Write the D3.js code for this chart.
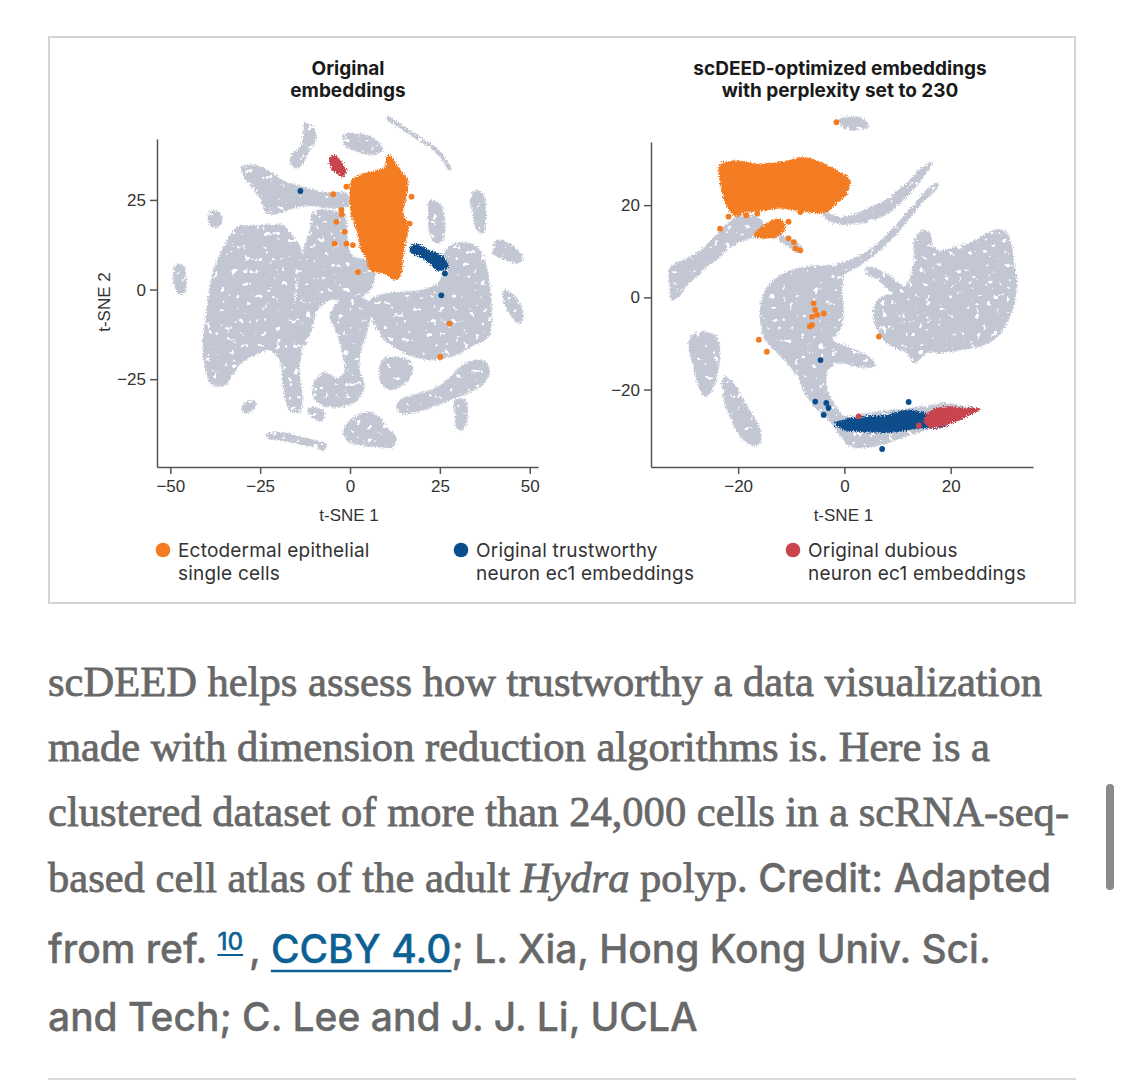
<!DOCTYPE html>
<html>
<head>
<meta charset="utf-8">
<script src="https://cdn.jsdelivr.net/npm/d3@7"></script>
<style>
  body { margin: 0; background: #fff; }
  svg { display: block; }
</style>
</head>
<body>
<div id="wrapper"></div>
<script>
// ---- data (t-SNE units) ----

// ticks
const leftXTicks = [-50, -25, 0, 25, 50];
const leftYTicks = [-25, 0, 25];
const rightXTicks = [-20, 0, 20];
const rightYTicks = [-20, 0, 20];

// left panel: original embeddings
const leftGray = [
  [[-30.2,34.3],[-26.1,34.7],[-22.3,32.9],[-18.6,30.5],[-13.1,28.7],[-7.5,27.3],[-1.0,26.8],[-0.1,23.6],[-5.6,22.6],[-11.2,23.3],[-16.8,22.3],[-20.5,21.0],[-23.3,21.4],[-25.1,25.4],[-28.9,30.5]],
  [[-12.6,46.8],[-10.3,45.4],[-9.4,41.7],[-11.2,38.9],[-13.1,35.2],[-15.4,33.8],[-16.8,35.7],[-15.9,38.0],[-14.0,39.8],[-13.1,42.6]],
  [[-1.9,43.1],[2.7,43.6],[7.3,41.7],[9.2,38.9],[6.4,37.5],[1.8,38.5],[-1.5,40.3]],
  [[22.2,24.9],[25.0,24.0],[26.4,19.4],[25.9,13.8],[24.0,12.8],[22.2,15.6],[21.7,21.2]],
  [[34.2,27.7],[37.0,26.8],[37.9,21.2],[37.0,15.6],[35.2,16.6],[34.2,21.2],[33.3,24.9]],
  [[40.7,13.8],[44.4,12.8],[48.1,9.1],[47.2,7.3],[43.5,8.2],[39.8,10.0]],
  [[42.6,-0.2],[45,-1],[47.5,-4],[48.2,-8],[47,-9.5],[44.5,-7],[43,-4]],
  [[-48.5,7],[-46.2,6.5],[-45.5,2],[-46,-1],[-48,-1],[-49.2,3]],
  [[-31.5,17.4],[-25.1,18.0],[-18.7,18.0],[-16.8,16.0],[-14.0,12.4],[-13.2,8.2],[-14.6,2.6],[-15.4,-3.0],[-14.0,-8.6],[-13.2,-15.6],[-14.0,-22.5],[-13.2,-30.9],[-14.0,-34.3],[-16.8,-33.7],[-18.7,-26.7],[-19.6,-19.7],[-22.4,-17.0],[-26.5,-18.4],[-30.7,-21.1],[-34.9,-26.7],[-38.2,-26.7],[-40.5,-21.1],[-41.0,-14.2],[-39.9,-5.8],[-39.0,1.2],[-37.6,6.8],[-34.9,12.4]],
  [[-10.4,21.6],[-5.7,22.2],[-1.5,20.8],[-0.6,13.8],[0.5,9.6],[6.0,7.6],[6.9,2.6],[4.1,-1.6],[-1.5,-3.0],[-5.7,-3.0],[-9.0,-5.8],[-10.7,-11.4],[-12.6,-15.6],[-14.6,-11.4],[-15.1,-3.0],[-14.0,5.4],[-12.6,12.4],[-11.2,16.6]],
  [[-2.9,-3.0],[4.1,-2.4],[6.0,-5.8],[4.9,-11.4],[3.2,-16.9],[2.7,-22.5],[4.1,-26.7],[2.1,-30.9],[-2.9,-32.9],[-7.9,-32.3],[-10.4,-29.5],[-9.8,-25.3],[-7.0,-23.1],[-3.4,-24.8],[-1.5,-22.5],[-2.3,-16.9],[-4.0,-11.4],[-5.7,-7.2]],
  [[5.5,-3.0],[11.0,-0.8],[19.4,-0.2],[25.0,2.6],[25.8,9.6],[29.1,12.9],[34.7,12.4],[37.5,8.2],[38.9,1.2],[39.4,-5.8],[38.9,-12.8],[34.7,-15.6],[29.1,-18.4],[23.6,-19.7],[18.0,-18.9],[13.8,-17.0],[9.7,-14.2],[6.9,-10.0]],
  [[9,-19.5],[13,-18.8],[17,-20],[17.5,-23],[15,-26.5],[11,-28],[8.5,-26],[8.2,-22]],
  [[13.8,-30.9],[18.5,-29.1],[23.1,-27.7],[26.8,-25.3],[30.5,-21.6],[34.2,-19.7],[38.0,-20.2],[38.9,-23.5],[36.1,-27.2],[32.4,-29.1],[27.7,-30.9],[23.1,-32.8],[18.5,-34.2],[14.3,-34.6],[12.9,-33.3]],
  [[29.1,-30.9],[31.9,-30.5],[32.8,-33.7],[32.4,-37.4],[31.0,-39.3],[29.6,-38.4],[29.1,-34.6]],
  [[-1.0,-37.4],[1.8,-35.1],[5.5,-34.2],[8.3,-35.6],[10.1,-38.4],[12.9,-41.2],[12.0,-44.0],[8.3,-44.0],[3.6,-43.5],[-0.1,-42.6],[-1.9,-40.2]],
  [[-23.3,-40.2],[-18.6,-39.8],[-13.1,-41.2],[-9.4,-42.1],[-6.6,-43.0],[-7.1,-44.9],[-10.3,-44.0],[-14.9,-43.0],[-19.6,-42.1],[-22.8,-41.6]],
  [[-30.2,-32.8],[-27.9,-30.9],[-26.0,-31.4],[-27.0,-33.7],[-29.3,-34.6]],
  [[-11.7,-33.3],[-9.4,-32.8],[-7.1,-34.2],[-7.5,-36.5],[-10.3,-36.0]],
  [[-39.5,21.5],[-37,22],[-35.5,20],[-36.5,17.5],[-38.5,17.5]]
];
const leftGrayStreaks = [
  [[10.6,47.8],[18.5,42.6],[24.0,38.9],[27.7,33.8]]
];
const leftOrange = [
  [[11.0,37.5],[12.9,35.2],[14.8,32.4],[16.2,30.5],[15.7,25.9],[14.8,21.2],[16.2,18.4],[15.7,13.8],[14.8,9.1],[14.3,4.5],[12.9,2.6],[9.2,4.5],[5.5,5.4],[4.6,8.2],[2.7,11.9],[1.8,16.6],[0.4,20.3],[-0.1,25.9],[0.4,30.5],[3.6,32.4],[7.3,33.3],[9.7,34.3],[10.1,37.1]]
];
const leftOrangeDots = [[-4.7,26.6],[-1.0,28.7],[-2.4,22.2],[-3.8,18.9],[-1.5,16.1],[-4.3,12.8],[-1.0,12.8],[0.8,12.4],[2.2,4.9],[16.6,18.4],[17.1,25.9],[27.7,-9.5],[25.1,-18.8],[-2.3,21]];
const leftBlue = [
  [[17.1,12.4],[19.4,12.6],[22.2,11.0],[24.9,10.0],[26.8,8.2],[27.3,6.3],[25.9,5.4],[24.0,5.4],[22.2,7.3],[19.4,9.1],[17.1,10.0],[16.6,11.4]]
];
const leftBlueDots = [[-13.8,27.5],[26.4,4.5],[25.4,-1.6]];
const leftRed = [
  [[-5.6,37.1],[-4.3,37.5],[-2.4,35.7],[-1.0,33.3],[-1.9,31.5],[-3.8,32.4],[-5.2,33.8],[-5.8,35.7]]
];
const leftRedDots = [];

// right panel: scDEED-optimized embeddings
const rightGray = [
  [[-32.8,6.6],[-30.3,8.1],[-27.1,10.2],[-24.6,13.1],[-22.1,16.0],[-19.6,17.8],[-16.4,17.5],[-13.9,14.6],[-10.8,13.1],[-8.3,11.3],[-7.7,9.9],[-9.2,9.9],[-11.4,11.7],[-13.9,12.8],[-17.1,12.8],[-19.6,12.0],[-22.1,10.2],[-24.0,8.1],[-25.9,6.6],[-27.7,4.5],[-29.6,2.7],[-31.2,0.1],[-32.5,-0.6],[-32.9,2.3]],
  [[-4.5,19.3],[-2.0,17.8],[1.1,17.8],[4.3,19.3],[8.0,21.4],[11.2,24.3],[14.3,27.9],[16.5,29.4],[16.2,28.3],[13.7,24.3],[11.2,21.1],[8.7,18.5],[5.5,16.7],[2.4,15.9],[-0.8,15.9],[-3.3,16.7]],
  [[17.5,25.0],[13.7,21.1],[9.9,16.0],[6.2,11.7],[2.4,8.8],[-2.0,6.6],[-2.0,4.1],[3.0,7.0],[6.8,10.2],[10.5,14.6],[14.0,19.6],[17.8,24.3]],
  [[-15.2,0.9],[-13.3,3.8],[-10.8,5.6],[-7.7,6.6],[-3.9,7.0],[-1.4,6.5],[-0.4,4.5],[-0.4,0.9],[-0.1,-3.5],[-0.8,-7.1],[-2.0,-9.2],[0.5,-10.7],[4.3,-12.5],[5.8,-14.9],[3.0,-15.2],[-0.8,-14.3],[-3.0,-15.7],[-3.3,-19.3],[-2.0,-22.9],[-0.8,-25.1],[-3.3,-25.8],[-5.8,-23.7],[-7.7,-20.1],[-8.9,-17.2],[-10.8,-14.3],[-13.3,-11.4],[-15.2,-8.5],[-15.9,-4.2]],
  [[5.5,-2.0],[6.8,0.1],[9.3,0.9],[11.8,3.0],[13.1,8.1],[13.1,12.4],[14.9,14.6],[16.2,13.9],[16.8,11.0],[18.7,10.2],[20.6,11.0],[23.1,11.7],[25.6,13.1],[28.1,14.6],[30.0,14.6],[31.3,12.4],[31.9,8.1],[32.5,3.0],[31.9,-2.0],[30.6,-5.6],[28.8,-8.5],[25.6,-10.7],[21.8,-11.4],[18.1,-12.1],[15.6,-12.1],[13.1,-14.3],[11.8,-12.1],[10.5,-11.4],[8.0,-10.0],[6.2,-7.1],[5.5,-4.9]],
  [[4.3,6.6],[6.8,5.9],[10.5,3.0],[11.8,0.9],[9.3,0.9],[6.2,3.8],[3.9,5.4]],
  [[-1,38.6],[1,39.2],[3.5,38.8],[4.6,37],[3,36.3],[0,36.6]],
  [[-29.0,-8.5],[-26.5,-7.4],[-24.0,-8.5],[-23.4,-12.1],[-24.0,-17.2],[-25.2,-20.8],[-26.5,-21.5],[-27.7,-18.6],[-28.7,-14.3],[-29.3,-10.7]],
  [[-22.7,-17.2],[-20.8,-18.6],[-19.0,-22.2],[-17.1,-25.8],[-15.8,-28.7],[-15.8,-31.6],[-17.1,-32.3],[-19.0,-30.9],[-20.8,-28.0],[-22.1,-24.4],[-23.0,-20.8]],
  [[-2.6,-24.4],[0.5,-25.8],[4.3,-25.1],[9.3,-24.4],[14.3,-23.7],[18.7,-22.9],[23.1,-23.7],[25.6,-24.2],[23.1,-25.8],[19.3,-27.3],[15.6,-28.7],[11.8,-30.2],[8.0,-31.6],[4.3,-32.7],[1.1,-32.3],[-0.8,-30.2],[-2.0,-28.0],[-3.3,-25.8]]
];
const rightGrayStreaks = [];
const rightOrange = [
  [[-23.4,29.0],[-20.2,29.7],[-15.8,29.0],[-10.8,29.7],[-7.7,30.4],[-5.1,29.7],[-1.4,27.6],[1.1,25.4],[0.5,22.5],[-1.4,20.3],[-3.3,18.5],[-4.5,18.2],[-7.0,18.5],[-9.5,18.9],[-12.1,19.3],[-14.6,18.9],[-17.1,18.5],[-19.0,18.2],[-20.2,17.5],[-21.5,18.5],[-22.7,21.1],[-23.4,24.7],[-23.7,27.6]],
  [[-16.4,14.6],[-14.6,16.0],[-13.0,17.1],[-11.4,16.4],[-11.1,14.6],[-12.1,13.5],[-13.9,12.8],[-15.8,12.8],[-17.1,13.5]]
];
const rightOrangeDots = [[-23.4,14.9],[-21.8,17.5],[-10.5,12.8],[-9.5,12.0],[-9.2,10.6],[-8.3,10.2],[-10.5,16.4],[-8.3,18.5],[-5.8,-1.3],[-5.5,-2.7],[-6.1,-4.2],[-5.1,-3.8],[-3.9,-3.5],[-6.1,-6.0],[-6.5,-6.3],[-16.1,-9.2],[-14.6,-11.8],[6.5,-8.5],[-1.5,38.0],[-16.4,18.2],[-18.5,17.8]];
const rightBlue = [
  [[-2.0,-27.3],[1.1,-26.2],[4.3,-25.8],[8.0,-25.5],[11.8,-24.4],[15.6,-25.1],[18.7,-25.8],[20.0,-27.3],[18.1,-28.4],[14.3,-28.4],[10.5,-29.1],[6.8,-29.4],[3.0,-29.1],[-0.1,-28.7]]
];
const rightBlueDots = [[-4.5,-13.6],[-5.5,-22.6],[-3.4,-22.9],[-3.0,-24.0],[-3.9,-25.5],[1.4,-27.9],[12.1,-22.7],[7.1,-32.9]];
const rightRed = [
  [[15.6,-25.1],[17.5,-24.0],[20.0,-23.7],[22.5,-24.0],[25.6,-24.2],[23.7,-25.5],[21.2,-26.9],[18.7,-28.0],[16.2,-28.4],[14.9,-26.9]]
];
const rightRedDots = [[2.7,-25.8],[14.0,-27.8]];

// legend
const legendLabels = [
  ["Ectodermal epithelial", "single cells"],
  ["Original trustworthy", "neuron ec1 embeddings"],
  ["Original dubious", "neuron ec1 embeddings"]
];
const titles = [
  ["Original", "embeddings"],
  ["scDEED-optimized embeddings", "with perplexity set to 230"]
];

// caption
const captionLines = [
  [{t: "scDEED helps assess how trustworthy a data visualization", s: "serif"}],
  [{t: "made with dimension reduction algorithms is. Here is a", s: "serif"}],
  [{t: "clustered dataset of more than 24,000 cells in a scRNA-seq-", s: "serif"}],
  [{t: "based cell atlas of the adult ", s: "serif"}, {t: "Hydra", s: "italic"}, {t: " polyp. ", s: "serif"}, {t: "Credit: Adapted", s: "sans"}],
  [{t: "from ref. ", s: "sans"}, {t: "10", s: "sup"}, {t: ", ", s: "sans"}, {t: "CCBY 4.0", s: "link"}, {t: "; L. Xia, Hong Kong Univ. Sci.", s: "sans"}],
  [{t: "and Tech; C. Lee and J. J. Li, UCLA", s: "sans"}]
];

// ---- styles ----
const colors = {
  gray: "#c2c7d3",
  orange: "#f47b20",
  blue: "#0a4d8c",
  red: "#c9444d",
  axis: "#555",
  text: "#333",
  caption: "#686868",
  link: "#0b6194"
};
const labelFont = "Inter, 'Noto Sans', sans-serif";
const tickFont = "'Liberation Sans', Arial, sans-serif";

const width = 1125, height = 1081;

const svg = d3.select("#wrapper")
  .append("svg")
  .attr("width", width)
  .attr("height", height);

const defs = svg.append("defs");

// ragged edges for the point clouds
function roughFilter(id, holes) {
  const f = defs.append("filter")
    .attr("id", id)
    .attr("x", "-10%").attr("y", "-10%")
    .attr("width", "120%").attr("height", "120%");
  f.append("feTurbulence")
    .attr("type", "fractalNoise")
    .attr("baseFrequency", 0.9)
    .attr("numOctaves", 2)
    .attr("seed", 3)
    .attr("result", "noise");
  f.append("feDisplacementMap")
    .attr("in", "SourceGraphic")
    .attr("in2", "noise")
    .attr("scale", 6)
    .attr("xChannelSelector", "R")
    .attr("yChannelSelector", "G")
    .attr("result", "moved");
  if (holes) {
    // a few white specks inside the gray clouds
    f.append("feTurbulence")
      .attr("type", "fractalNoise")
      .attr("baseFrequency", 0.16)
      .attr("numOctaves", 3)
      .attr("seed", 11)
      .attr("result", "spots");
    f.append("feColorMatrix")
      .attr("in", "spots")
      .attr("type", "matrix")
      .attr("values", "0 0 0 0 0  0 0 0 0 0  0 0 0 0 0  -16 0 0 0 11.9")
      .attr("result", "mask");
    f.append("feComposite")
      .attr("in", "moved")
      .attr("in2", "mask")
      .attr("operator", "in");
  }
}
roughFilter("rough", false);
roughFilter("speckle", true);

// figure frame
svg.append("rect")
  .attr("x", 49).attr("y", 37)
  .attr("width", 1026).attr("height", 566)
  .attr("fill", "none")
  .attr("stroke", "#d5d5d5")
  .attr("stroke-width", 2);

function drawPanel(p) {
  const x = d3.scaleLinear().domain(p.xDomain).range(p.xRange);
  const y = d3.scaleLinear().domain(p.yDomain).range(p.yRange);
  const g = svg.append("g");

  const blob = d3.line()
    .x(d => x(d[0]))
    .y(d => y(d[1]))
    .curve(d3.curveCatmullRomClosed.alpha(0.5));
  const streak = d3.line()
    .x(d => x(d[0]))
    .y(d => y(d[1]))
    .curve(d3.curveCatmullRom.alpha(0.5));

  const grayLayer = g.append("g").attr("filter", "url(#speckle)");
  grayLayer.selectAll(".gray").data(p.gray).join("path")
    .attr("class", "gray")
    .attr("d", blob)
    .attr("fill", colors.gray);
  grayLayer.selectAll(".streak").data(p.streaks).join("path")
    .attr("class", "streak")
    .attr("d", streak)
    .attr("fill", "none")
    .attr("stroke", colors.gray)
    .attr("stroke-width", 4)
    .attr("stroke-linecap", "round");

  const groups = [
    {shapes: p.orange, dots: p.orangeDots, color: colors.orange},
    {shapes: p.blue, dots: p.blueDots, color: colors.blue},
    {shapes: p.red, dots: p.redDots, color: colors.red}
  ];
  const colorLayer = g.append("g").attr("filter", "url(#rough)");
  groups.forEach(grp => {
    colorLayer.append("g").selectAll("path").data(grp.shapes).join("path")
      .attr("d", blob)
      .attr("fill", grp.color);
  });
  groups.forEach(grp => {
    g.append("g").selectAll("circle").data(grp.dots).join("circle")
      .attr("cx", d => x(d[0]))
      .attr("cy", d => y(d[1]))
      .attr("r", 2.9)
      .attr("fill", grp.color);
  });

  // axes
  const xAxis = g.append("g")
    .attr("transform", `translate(0,${p.yRange[0]})`)
    .call(d3.axisBottom(x).tickValues(p.xTicks).tickSize(7).tickSizeOuter(0).tickPadding(6));
  const yAxis = g.append("g")
    .attr("transform", `translate(${p.xRange[0]},0)`)
    .call(d3.axisLeft(y).tickValues(p.yTicks).tickSize(7).tickSizeOuter(0).tickPadding(4));

  [xAxis, yAxis].forEach(a => {
    a.select(".domain").attr("stroke", colors.axis).attr("stroke-width", 1.5);
    a.selectAll(".tick line").attr("stroke", colors.axis).attr("stroke-width", 1.5);
    a.selectAll(".tick text")
      .attr("fill", colors.text)
      .style("font-family", tickFont)
      .style("font-size", "17px");
  });

  g.append("text")
    .attr("x", x(0) - 1)
    .attr("y", 521)
    .attr("text-anchor", "middle")
    .attr("fill", colors.text)
    .style("font-family", tickFont)
    .style("font-size", "17px")
    .text("t-SNE 1");

  if (p.yLabel) {
    g.append("text")
      .attr("transform", `translate(110,302) rotate(-90)`)
      .attr("text-anchor", "middle")
      .attr("fill", colors.text)
      .style("font-family", tickFont)
      .style("font-size", "17px")
      .text(p.yLabel);
  }

  // title
  g.selectAll(".title").data(p.title).join("text")
    .attr("class", "title")
    .attr("x", p.titleX)
    .attr("y", (d, i) => 75 + i * 22)
    .attr("text-anchor", "middle")
    .attr("fill", "#1a1a1a")
    .style("font-family", labelFont)
    .style("font-weight", 700)
    .style("font-size", "19px")
    .text(d => d);
}

drawPanel({
  xDomain: [-53.7, 52.3], xRange: [157, 538],
  yDomain: [-49.5, 42], yRange: [467, 139],
  xTicks: leftXTicks, yTicks: leftYTicks,
  gray: leftGray, streaks: leftGrayStreaks,
  orange: leftOrange, orangeDots: leftOrangeDots,
  blue: leftBlue, blueDots: leftBlueDots,
  red: leftRed, redDots: leftRedDots,
  yLabel: "t-SNE 2",
  title: titles[0], titleX: 348
});

drawPanel({
  xDomain: [-36.4, 35.5], xRange: [651, 1033],
  yDomain: [-36.8, 33.7], yRange: [467, 142],
  xTicks: rightXTicks, yTicks: rightYTicks,
  gray: rightGray, streaks: rightGrayStreaks,
  orange: rightOrange, orangeDots: rightOrangeDots,
  blue: rightBlue, blueDots: rightBlueDots,
  red: rightRed, redDots: rightRedDots,
  title: titles[1], titleX: 840
});

// legend
const legendX = [163, 461, 793];
const legendColors = [colors.orange, colors.blue, colors.red];
const legend = svg.append("g").selectAll("g").data(legendLabels).join("g")
  .attr("transform", (d, i) => `translate(${legendX[i]},550)`);
legend.append("circle")
  .attr("r", 7.3)
  .attr("fill", (d, i) => legendColors[i]);
legend.selectAll("text").data(d => d).join("text")
  .attr("x", 15)
  .attr("y", (d, i) => 7 + i * 22.5)
  .attr("fill", colors.text)
  .style("font-family", labelFont)
  .style("font-size", "19px")
  .style("letter-spacing", "0.2px")
  .text(d => d);

// caption
const baselines = [696, 761, 826, 892, 963, 1031];
const capX = 48;
const serifFamily = "'Liberation Serif', serif";
const sansFamily = "Inter, Roboto, sans-serif";
const styleOf = {
  serif: {family: serifFamily, weight: 400, style: "normal", size: 1, fill: colors.caption, stroke: 0.8},
  italic: {family: serifFamily, weight: 400, style: "italic", size: 1, fill: colors.caption, stroke: 0.8},
  sans: {family: sansFamily, weight: 500, style: "normal", size: 1, fill: colors.caption, stroke: 0.35},
  link: {family: sansFamily, weight: 500, style: "normal", size: 1, fill: colors.link, stroke: 0.35},
  sup: {family: sansFamily, weight: 500, style: "normal", size: 0.62, fill: colors.link, stroke: 0.3}
};
const cap = svg.append("g");

function measure(txt, st, size) {
  const t = cap.append("text")
    .attr("xml:space", "preserve")
    .style("font-family", st.family).style("font-weight", st.weight)
    .style("font-style", st.style).style("font-size", size + "px")
    .text(txt);
  const w = t.node().getComputedTextLength();
  t.remove();
  return w;
}
// the serif is set tall and then squeezed to the measured line width
const serifSize = 43;
const serifSqueeze = 994 / measure(captionLines[0][0].t, styleOf.serif, serifSize);
const sansSize = 32 * 650 / measure(captionLines[5][0].t, styleOf.sans, 32);
const gapAfter = {sup: 6};

captionLines.forEach((line, li) => {
  let cx = capX;
  line.forEach(seg => {
    const st = styleOf[seg.s];
    const isSerif = seg.s === "serif" || seg.s === "italic";
    const size = (isSerif ? serifSize : sansSize) * st.size;
    const yy = baselines[li] + (seg.s === "sup" ? -13 : 0);
    const t = cap.append("text")
      .attr("x", cx).attr("y", yy)
      .attr("fill", st.fill)
      .attr("stroke", st.fill)
      .attr("stroke-width", st.stroke)
      .attr("xml:space", "preserve")
      .style("font-family", st.family).style("font-weight", st.weight)
      .style("font-style", st.style).style("font-size", size + "px")
      .text(seg.t);
    let w = t.node().getComputedTextLength();
    if (isSerif) {
      w = w * serifSqueeze;
      t.attr("textLength", w).attr("lengthAdjust", "spacingAndGlyphs");
    }
    if (seg.s === "link" || seg.s === "sup") {
      const uy = seg.s === "sup" ? yy + 5 : yy + 8;
      cap.append("line")
        .attr("x1", cx).attr("x2", cx + w)
        .attr("y1", uy).attr("y2", uy)
        .attr("stroke", colors.link)
        .attr("stroke-width", seg.s === "sup" ? 2 : 2.5);
    }
    cx += w + (gapAfter[seg.s] || 0);
  });
});

// bottom rule and scrollbar
svg.append("line")
  .attr("x1", 48).attr("x2", 1076)
  .attr("y1", 1079).attr("y2", 1079)
  .attr("stroke", "#d9d9d9")
  .attr("stroke-width", 2);
svg.append("rect")
  .attr("x", 1106).attr("y", 784)
  .attr("width", 8).attr("height", 106)
  .attr("rx", 4)
  .attr("fill", "#8a8a8a");
</script>
</body>
</html>
